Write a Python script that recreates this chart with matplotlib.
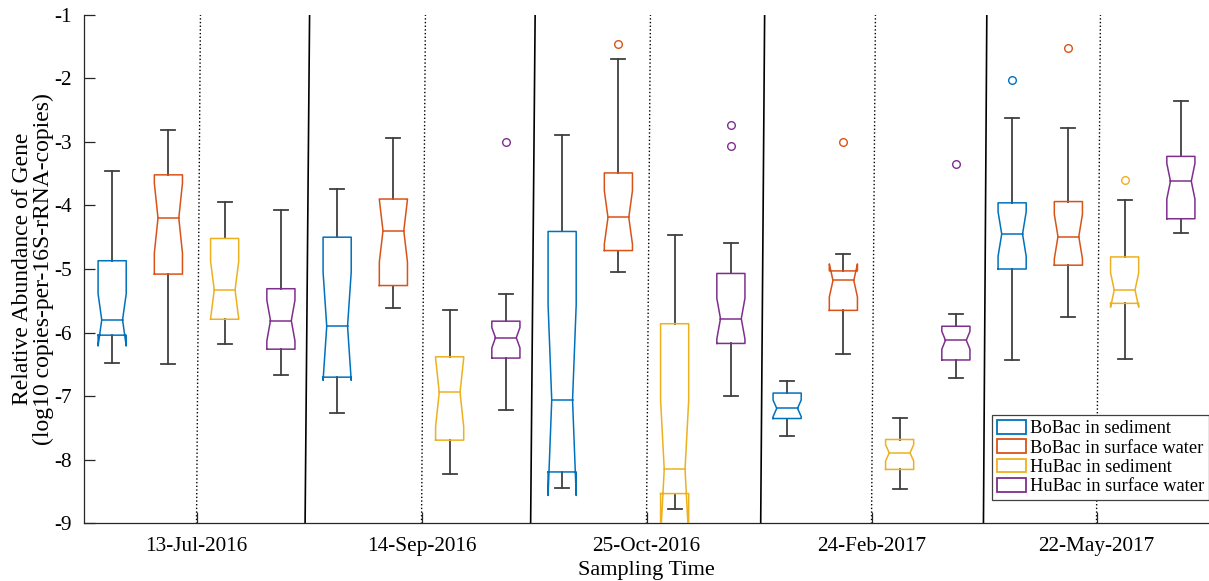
import numpy as np
import matplotlib
matplotlib.use('Agg')
import matplotlib.pyplot as plt
from matplotlib.patches import Patch

plt.rcParams['font.family'] = ['Liberation Serif', 'DejaVu Serif']
plt.rcParams['axes.unicode_minus'] = False

dates = ['13-Jul-2016', '14-Sep-2016', '25-Oct-2016', '24-Feb-2017', '22-May-2017']
groups = ['BoBac in sediment', 'BoBac in surface water', 'HuBac in sediment', 'HuBac in surface water']
colors = ['#0072BD', '#D95319', '#EDB120', '#7E2F8E']

# box statistics, one row per sampling date, columns ordered as `groups`
whislo = [[-6.47, -6.50, -6.18, -6.66],
          [-7.27, -5.62, -8.22, -7.21],
          [-8.44, -5.04, -8.77, -7.00],
          [-7.63, -6.33, -8.46, -6.71],
          [-6.43, -5.76, -6.41, -4.44]]
q1 = [[-6.04, -5.08, -5.79, -6.26],
      [-6.70, -5.26, -7.69, -6.40],
      [-8.19, -4.71, -8.53, -6.17],
      [-7.35, -5.65, -8.15, -6.43],
      [-5.00, -4.94, -5.54, -4.21]]
med = [[-5.80, -4.20, -5.33, -5.81],
       [-5.90, -4.40, -6.94, -6.08],
       [-7.06, -4.19, -8.15, -5.78],
       [-7.19, -5.18, -7.89, -6.12],
       [-4.45, -4.49, -5.33, -3.62]]
q3 = [[-4.87, -3.52, -4.52, -5.31],
      [-4.50, -3.90, -6.38, -5.82],
      [-4.41, -3.49, -5.86, -5.07],
      [-6.95, -5.03, -7.68, -5.90],
      [-3.96, -3.94, -4.81, -3.23]]
whishi = [[-3.46, -2.81, -3.94, -4.08],
          [-3.74, -2.94, -5.65, -5.39],
          [-2.89, -1.70, -4.47, -4.59],
          [-6.76, -4.76, -7.34, -5.71],
          [-2.63, -2.79, -3.91, -2.36]]
# half height of the median notch
notch = [[0.41, 0.55, 0.45, 0.32],
         [0.85, 0.49, 0.54, 0.16],
         [1.50, 0.42, 1.09, 0.32],
         [0.13, 0.26, 0.13, 0.14],
         [0.35, 0.35, 0.27, 0.28]]
outliers = [[[], [], [], []],
            [[], [], [], [-3.01]],
            [[], [-1.47], [], [-2.73, -3.07]],
            [[], [-3.00], [], [-3.35]],
            [[-2.03], [-1.52], [-3.60], []]]

yticks = [-1, -2, -3, -4, -5, -6, -7, -8, -9]

# separator lines between sampling dates (x at top, x at bottom)
sep_top = [4.51, 8.52, 12.60, 16.55]
sep_bot = [4.43, 8.44, 12.53, 16.49]

fig = plt.figure(figsize=(12.09, 5.81), dpi=100)
ax = fig.add_axes([0.0695, 0.099, 0.9305, 0.876])

hw, nw, cw = 0.25, 0.185, 0.125  # half widths: box, notch, cap
wcol = '0.25'

for i in range(len(dates)):
    for j in range(len(groups)):
        x = 4*i + j + 1
        m, h, c = med[i][j], notch[i][j], colors[j]
        xs = [x-hw, x+hw, x+hw, x+nw, x+hw, x+hw, x-hw, x-hw, x-nw, x-hw, x-hw]
        ys = [q1[i][j], q1[i][j], m-h, m, m+h, q3[i][j], q3[i][j], m+h, m, m-h, q1[i][j]]
        ax.plot(xs, ys, '-', c=c, lw=1.1, zorder=3)
        ax.plot([x-nw, x+nw], [m, m], '-', c=c, lw=1.1, zorder=3)
        # whiskers + caps
        ax.plot([x, x], [q3[i][j], whishi[i][j]], '-', c=wcol, lw=1.3, zorder=2)
        ax.plot([x, x], [q1[i][j], whislo[i][j]], '-', c=wcol, lw=1.3, zorder=2)
        ax.plot([x-cw, x+cw], [whishi[i][j]]*2, '-', c=wcol, lw=1.3, zorder=2)
        ax.plot([x-cw, x+cw], [whislo[i][j]]*2, '-', c=wcol, lw=1.3, zorder=2)
        fl = outliers[i][j]
        if len(fl):
            ax.plot([x]*len(fl), fl, 'o', mfc='none', mec=c, ms=5.5, mew=1.0, zorder=3)

centers = [4*i + 2.5 for i in range(len(dates))]
for cx in centers:
    ax.plot([cx+0.07, cx], [-1, -9], ':', c='k', lw=1.0, zorder=1)
for xt, xb in zip(sep_top, sep_bot):
    ax.plot([xt, xb], [-1, -9], '-', c='k', lw=1.2, zorder=1)

ax.set_xlim(0.5, 20.5)
ax.set_ylim(-9, -1)
ax.set_xticks(centers)
ax.set_xticklabels(dates)
ax.set_yticks(yticks)
ax.set_yticklabels(['%d' % v for v in yticks])
ax.tick_params(direction='in', length=8, width=0.9, colors='0.15', labelsize=15.3)
ax.tick_params(axis='x', pad=10, labelcolor='k')
ax.tick_params(axis='y', pad=9, labelcolor='k')
for s in ['top', 'right']:
    ax.spines[s].set_visible(False)
for s in ['left', 'bottom']:
    ax.spines[s].set_color('0.15')
    ax.spines[s].set_linewidth(0.9)

ax.set_xlabel('Sampling Time', fontsize=16, labelpad=3)
ax.set_ylabel('Relative Abundance of Gene\n(log10 copies-per-16S-rRNA-copies)', fontsize=17, labelpad=0, linespacing=0.98)

handles = [Patch(facecolor='white', edgecolor=c, lw=1.3, label=g) for g, c in zip(groups, colors)]
leg = ax.legend(handles=handles, loc='lower right', bbox_to_anchor=(1.0, 0.046), borderaxespad=0,
                fontsize=13.3, fancybox=False, framealpha=1, edgecolor='0.25',
                handlelength=1.6, handleheight=0.75, handletextpad=0.2, labelspacing=0.12, borderpad=0.25)
leg.get_frame().set_linewidth(0.9)

plt.savefig('out.png', dpi=100)
